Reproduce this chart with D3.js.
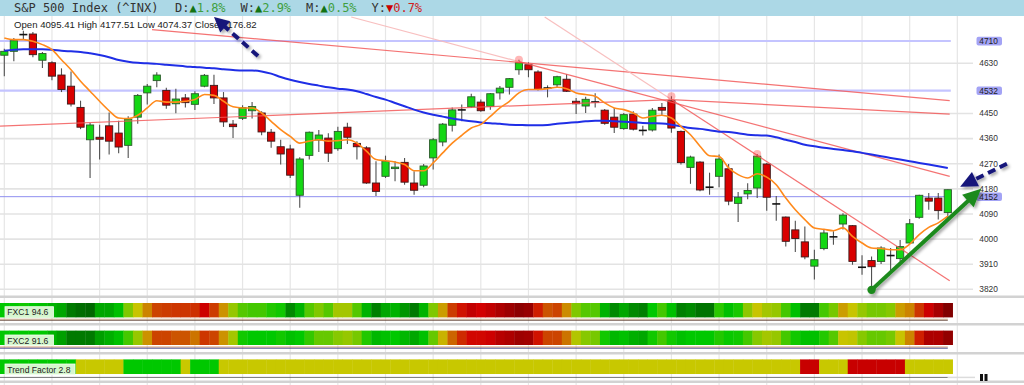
<!DOCTYPE html>
<html><head><meta charset="utf-8">
<script src="https://cdn.jsdelivr.net/npm/d3@7/dist/d3.min.js"></script>
<style>body{margin:0;background:#fff;}svg{display:block;}</style>
</head><body>
<svg id="c" width="1024" height="385"></svg>
<script>
// ---------------- DATA ----------------
const opens = [4659,4673,4732,4735,4641,4632,4588,4548,4472,4356,
 4365,4406,4380,4336,4437,4524,4568,4533,4485,4506,
 4483,4548,4551,4506,4412,4433,4460,4452,4383,4331,
 4323,4157,4300,4355,4362,4324,4401,4343,4327,4201,
 4225,4254,4275,4201,4193,4291,4348,4408,4462,4474,
 4491,4476,4524,4544,4607,4625,4599,4542,4553,4573,
 4494,4477,4491,4462,4437,4396,4448,4390,4391,4472,
 4496,4386,4257,4276,4185,4225,4252,4128,4162,4183,
 4269,4127,4079,4033,3990,3903,3966,4007,4054,4048,
 3898,3923,3920,3940,3930,3986,4078,4147,4147,4095];
const highs = [4682,4721,4747,4742,4671,4637,4612,4601,4496,4416,
 4410,4454,4424,4440,4520,4556,4598,4542,4539,4520,
 4530,4592,4589,4527,4427,4480,4491,4458,4395,4356,
 4338,4293,4386,4391,4379,4403,4417,4351,4333,4279,
 4299,4279,4291,4243,4269,4362,4416,4472,4482,4521,
 4500,4524,4549,4577,4643,4634,4605,4551,4585,4592,
 4506,4510,4523,4466,4470,4452,4458,4406,4470,4488,
 4512,4389,4299,4279,4238,4303,4269,4169,4200,4305,
 4273,4154,4081,4066,4045,3962,4033,4028,4093,4050,
 3942,3938,3974,3968,3997,4072,4159,4165,4165,4178];
const lows = [4584,4637,4715,4652,4613,4569,4527,4475,4394,4219,
 4285,4303,4308,4291,4413,4482,4544,4467,4451,4472,
 4463,4544,4484,4402,4362,4427,4432,4372,4327,4267,
 4219,4112,4285,4312,4276,4317,4341,4285,4198,4154,
 4219,4207,4195,4159,4186,4249,4333,4386,4422,4470,
 4456,4464,4500,4518,4589,4580,4533,4508,4542,4527,
 4448,4452,4472,4410,4380,4392,4389,4371,4386,4444,
 4381,4267,4198,4171,4159,4186,4121,4061,4143,4147,
 4102,4066,3973,3954,3928,3855,3960,3980,4034,3908,
 3872,3818,3911,3885,3920,3982,4073,4105,4070,4074];
const closes = [4673,4711,4734,4661,4665,4584,4536,4484,4401,4409,
 4358,4351,4330,4430,4515,4548,4588,4480,4502,4489,
 4521,4587,4506,4420,4403,4471,4475,4384,4351,4305,
 4229,4287,4383,4373,4308,4386,4365,4331,4201,4171,
 4279,4258,4204,4175,4262,4356,4412,4463,4464,4510,
 4460,4521,4541,4575,4632,4607,4536,4541,4582,4530,
 4485,4501,4492,4415,4401,4446,4394,4389,4462,4462,
 4398,4274,4294,4176,4187,4287,4136,4150,4174,4297,
 4150,4125,3992,4002,3936,3926,4022,4009,4086,3920,
 3900,3901,3968,3942,3973,4055,4157,4136,4102,4177];
const emaFast = [4721,4715,4715,4709,4697,4679,4643,4607,4566,4530,
 4494,4460,4434,4432,4444,4470,4496,4491,4491,4494,
 4500,4518,4515,4494,4474,4470,4470,4452,4422,4392,
 4368,4344,4351,4356,4351,4353,4356,4344,4315,4285,
 4281,4276,4267,4245,4245,4273,4309,4344,4372,4398,
 4411,4440,4470,4494,4524,4536,4536,4539,4544,4539,
 4524,4518,4512,4488,4470,4464,4452,4434,4440,4444,
 4434,4404,4374,4333,4299,4296,4255,4231,4219,4234,
 4222,4195,4147,4105,4070,4040,4035,4030,4040,4010,
 3986,3968,3966,3962,3962,3982,4016,4042,4058,4082];
const maSlow = [4675,4679,4680,4680,4680,4679,4675,4673,4671,4666,
 4660,4652,4642,4636,4632,4630,4628,4625,4622,4619,
 4617,4614,4612,4609,4606,4604,4604,4601,4593,4581,
 4571,4563,4556,4550,4544,4539,4536,4530,4520,4509,
 4500,4488,4476,4464,4454,4446,4439,4432,4427,4422,
 4418,4415,4413,4410,4409,4408,4408,4409,4413,4416,
 4419,4422,4424,4424,4422,4421,4419,4416,4415,4414,
 4410,4404,4398,4395,4390,4385,4384,4379,4374,4372,
 4371,4365,4356,4348,4338,4333,4327,4323,4319,4315,
 4309,4303,4297,4291,4285,4279,4273,4267,4261,4255];
const fxc1 = [30,30,32,30,28,25,22,10,6,4,
 22,22,28,45,55,66,74,75,76,76,
 77,86,75,64,48,40,38,38,34,32,
 15,25,40,45,40,50,50,40,25,12,
 22,25,18,10,25,45,62,75,82,88,
 85,88,92,95,98,96,80,72,74,65,
 45,40,40,25,15,22,15,12,30,38,
 28,12,15,8,8,35,28,33,47,55,
 50,48,38,28,10,10,38,44,62,55,
 48,44,44,46,62,66,76,86,93,100];
const fxc2 = [30,30,30,30,30,25,20,10,10,10,
 20,24,28,38,48,64,74,74,72,72,
 68,76,74,64,50,32,30,30,30,32,
 28,30,36,42,42,46,48,44,34,26,
 28,30,26,22,28,42,58,70,78,84,
 84,86,90,92,95,94,82,74,74,68,
 52,46,44,32,26,28,24,22,32,38,
 32,28,30,30,30,34,31,32,38,46,
 50,48,38,32,28,28,34,40,55,54,
 46,42,42,44,55,66,80,92,92,97];
const trendFactor = ["G","G","G","G","G","G","G","G","Y","Y",
 "Y","Y","Y","G","G","G","G","G","G","Y",
 "G","G","G","Y","Y","Y","Y","Y","Y","Y",
 "Y","Y","Y","Y","Y","Y","Y","Y","Y","Y",
 "Y","Y","Y","Y","Y","Y","Y","Y","Y","Y",
 "Y","Y","Y","Y","Y","Y","Y","Y","Y","Y",
 "Y","Y","Y","Y","Y","Y","Y","Y","Y","Y",
 "Y","Y","Y","Y","Y","Y","Y","Y","Y","Y",
 "Y","Y","Y","Y","R","R","Y","Y","Y","R",
 "R","R","R","R","R","Y","Y","Y","Y","Y"];
const yTicks = [3820,3910,4000,4090,4180,4270,4360,4450,4630];
const levelValues = [4710,4532,4152];
const levelLabels = ["4710","4532","4152"];
// trend lines: start/end index & value, faint flag
const trendStartIdx = [15.5,-0.45,70,36.4,54,56.7,70];
const trendStartVal = [4751,4405,4500,4796,4636,4796,4500];
const trendEndIdx   = [99.2,70,99.2,54,99.2,70,99.2];
const trendEndVal   = [4496,4500,4448,4636,4225,4500,3851];
const trendFaint    = [false,false,false,true,false,true,false];
const pivotIdx = [54,70,79];
const headerTitle = "S&P 500 Index (^INX)";
const statKeys = ["D","W","M","Y"];
const statUp = [true,true,true,false];
const statVals = ["1.8%","2.9%","0.5%","0.7%"];
const ohlcText = "Open 4095.41 High 4177.51 Low 4074.37 Close 4176.82";
const panelNames = ["FXC1 94.6","FXC2 91.6","Trend Factor 2.8"];

// ---------------- CHART ----------------
const svg = d3.select("#c");
const N = opens.length;
const x = d3.scaleLinear().domain([0, N-1]).range([4.3, 947.8]);
const y = d3.scaleLinear().domain([3820, 4710]).range([289.3, 41]);
const step = x(1) - x(0);
const gridRight = 973;

const defs = svg.append("defs");
defs.append("clipPath").attr("id","pc").append("rect").attr("x",0).attr("y",16).attr("width",975).attr("height",280);
const f = defs.append("filter").attr("id","sh").attr("x","-20%").attr("y","-20%").attr("width","140%").attr("height","140%");
f.append("feDropShadow").attr("dx",2).attr("dy",2).attr("stdDeviation",1.6).attr("flood-color","#000").attr("flood-opacity",0.35);

svg.append("rect").attr("width",1024).attr("height",385).attr("fill","#fff");

// vertical grid
svg.append("g").selectAll("line").data(d3.range(0, N+1, 5)).join("line")
  .attr("x1", d=>x(d)).attr("x2", d=>x(d)).attr("y1",16).attr("y2",385)
  .attr("stroke","#e6e6e6").attr("stroke-width",1.2);

// horizontal grid
svg.append("g").selectAll("line").data(yTicks).join("line")
  .attr("x1",0).attr("x2",gridRight).attr("y1",d=>y(d)).attr("y2",d=>y(d))
  .attr("stroke","#e3e3e3").attr("stroke-width",1.6);

const plot = svg.append("g").attr("clip-path","url(#pc)");

// level lines
plot.selectAll("line.lvl").data(levelValues).join("line").attr("class","lvl")
  .attr("x1",0).attr("x2",x(N-1)+3).attr("y1",d=>y(d)).attr("y2",d=>y(d))
  .attr("stroke",(d,i)=> i<2 ? "#c4c4ff" : "#8f8ff0")
  .attr("stroke-width",(d,i)=> i<2 ? 2.2 : 1);

// candles
const cg = plot.append("g");
const idx = d3.range(N);
cg.selectAll("line.wick").data(idx).join("line").attr("class","wick")
  .attr("x1",i=>x(i)).attr("x2",i=>x(i)).attr("y1",i=>y(highs[i])).attr("y2",i=>y(lows[i]))
  .attr("stroke","#505050").attr("stroke-width",1.1);
const doji = i => Math.abs(opens[i]-closes[i]) <= 2;
cg.selectAll("rect.body").data(idx.filter(i=>!doji(i))).join("rect").attr("class","body")
  .attr("x",i=>x(i)-3.6).attr("width",7.2)
  .attr("y",i=>y(Math.max(opens[i],closes[i])))
  .attr("height",i=>Math.max(1.5, Math.abs(y(opens[i])-y(closes[i]))))
  .attr("fill",i=> closes[i]>=opens[i] ? "#14d714" : "#d90000")
  .attr("stroke",i=> closes[i]>=opens[i] ? "#2a5a2a" : "#3a1a1a").attr("stroke-width",0.9);
cg.selectAll("line.doji").data(idx.filter(doji)).join("line").attr("class","doji")
  .attr("x1",i=>x(i)-4).attr("x2",i=>x(i)+4)
  .attr("y1",i=>y((opens[i]+closes[i])/2)).attr("y2",i=>y((opens[i]+closes[i])/2))
  .attr("stroke","#111").attr("stroke-width",1.6);

// trend lines
const tl = d3.range(trendStartIdx.length);
plot.selectAll("line.tl").data(tl).join("line").attr("class","tl")
  .attr("x1",k=>x(trendStartIdx[k])).attr("y1",k=>y(trendStartVal[k]))
  .attr("x2",k=>x(trendEndIdx[k])).attr("y2",k=>y(trendEndVal[k]))
  .attr("stroke",k=> trendFaint[k] ? "#f7b8b8" : "#f25a5a")
  .attr("stroke-opacity",k=> trendFaint[k] ? 0.9 : 0.85)
  .attr("stroke-width",1.2);

// moving averages
const lineGen = arr => d3.line().x((d,i)=>x(i)).y(d=>y(d)).curve(d3.curveMonotoneX)(arr);
plot.append("path").attr("d",lineGen(maSlow)).attr("fill","none").attr("stroke","#1f2ee6").attr("stroke-width",2);
plot.append("path").attr("d",lineGen(emaFast)).attr("fill","none").attr("stroke","#ff8a1c").attr("stroke-width",1.6);

// pivot dots
plot.selectAll("circle.pv").data(pivotIdx).join("circle").attr("class","pv")
  .attr("cx",i=>x(i)).attr("cy",i=>y(highs[i])).attr("r",4)
  .attr("fill","#ff3030").attr("fill-opacity",0.35);

// y axis labels
const axisG = svg.append("g").attr("font-family","Liberation Sans, Arial, sans-serif").attr("font-size","8.4px");
axisG.selectAll("text.tk").data(yTicks).join("text").attr("class","tk")
  .attr("x",979.3).attr("y",d=>y(d)).attr("dy","0.33em").attr("fill","#333").text(d=>d);
const lv = axisG.selectAll("g.lv").data(levelValues).join("g").attr("class","lv");
lv.append("rect").attr("x",976.5).attr("y",d=>y(d)-4.2).attr("width",25.5).attr("height",8.6).attr("rx",2)
  .attr("fill","#a3a3f5");
lv.append("text").attr("x",979.3).attr("y",d=>y(d)+0.6).attr("dy","0.33em").attr("fill","#222")
  .text((d,i)=>levelLabels[i]);

// header
svg.append("rect").attr("x",0).attr("y",0).attr("width",1024).attr("height",16).attr("fill","#acd8e6");
const hdr = svg.append("g").attr("font-family","DejaVu Sans Mono, monospace").attr("font-size","12px");
hdr.append("text").attr("x",14).attr("y",12).attr("fill","#333").text(headerTitle);
const statX = [175,240.5,306,371.5];
statKeys.forEach((k,i)=>{
  const t = hdr.append("text").attr("x",statX[i]).attr("y",12);
  t.append("tspan").attr("fill","#333").text(k+":");
  t.append("tspan").attr("fill", statUp[i] ? "#137313" : "#cc0000").text(statUp[i] ? "▲" : "▼");
  t.append("tspan").attr("fill", statUp[i] ? "#3f9f3f" : "#d02020").text(statVals[i]);
});
svg.append("text").attr("x",14).attr("y",27.5).attr("font-family","Liberation Sans, Arial, sans-serif")
  .attr("font-size","9.6px").attr("fill","#222").text(ohlcText);

// indicator panels
const seps = [296.7, 324.3, 353.3, 381.7];
svg.selectAll("line.sep").data(seps).join("line").attr("class","sep")
  .attr("x1",0).attr("x2",1024).attr("y1",d=>d).attr("y2",d=>d)
  .attr("stroke","#d2d2d2").attr("stroke-width",2.4);

const heat = d3.scaleLinear().domain([0,15,30,45,55,65,75,85,100])
  .range(["#005a00","#008a00","#00c800","#80c800","#c8c400","#cc8c00","#cc3c00","#d20000","#820000"]);
const tfColor = {G:"#00c800", Y:"#c8c800", R:"#c80000"};
const rows = [
  {vals: fxc1, y0: 303, h: 14.4, col: v=>heat(v)},
  {vals: fxc2, y0: 330.6, h: 14.4, col: v=>heat(v)},
  {vals: trendFactor, y0: 359.4, h: 14.6, col: v=>tfColor[v]}
];
rows.forEach(r=>{
  svg.append("g").selectAll("rect").data(r.vals).join("rect")
    .attr("x",(d,i)=>x(i)-step/2).attr("width",step+0.4)
    .attr("y",r.y0).attr("height",r.h).attr("fill",d=>r.col(d));
});
// thin indicator traces under rows
const traces = [
  {y:319.2, c:"#c9a27a", w:1}, {y:320.3, c:"#5a3a2a", w:1},
  {y:347.0, c:"#d08a50", w:1}, {y:348.2, c:"#2a2a7a", w:1},
  {y:377.4, c:"#505050", w:1}
];
svg.selectAll("line.tr").data(traces).join("line").attr("class","tr")
  .attr("x1",0).attr("x2",x(N-1)).attr("y1",d=>d.y).attr("y2",d=>d.y)
  .attr("stroke",d=>d.c).attr("stroke-width",d=>d.w).attr("stroke-opacity",0.8);
svg.append("line").attr("x1",x(N-1)).attr("x2",975).attr("y1",377.4).attr("y2",377.4).attr("stroke","#dcdcdc").attr("stroke-width",1.5);
svg.append("rect").attr("x",980).attr("y",374).attr("width",3).attr("height",7).attr("fill","#111");
svg.append("rect").attr("x",984.5).attr("y",374).attr("width",3).attr("height",7).attr("fill","#111");

// panel labels
const labW = [48.5, 48.5, 70];
const labY = [306.7, 335, 364];
panelNames.forEach((n,i)=>{
  svg.append("rect").attr("x",5).attr("y",labY[i]).attr("width",labW[i]).attr("height",10.6)
    .attr("fill","#d6f6ce").attr("stroke","#f4fff0").attr("stroke-width",0.8);
  svg.append("text").attr("x",7.3).attr("y",labY[i]+8.6).attr("font-family","Liberation Sans, Arial, sans-serif")
    .attr("font-size","8.6px").attr("fill","#222").text(n);
});

// annotation arrows
function arrow(g, x1, y1, x2, y2, color, width, dashed, headLen, headHalf){
  const dx = x2-x1, dy = y2-y1, L = Math.hypot(dx,dy), ux = dx/L, uy = dy/L;
  const bx = x2-ux*headLen, by = y2-uy*headLen, px = -uy, py = ux;
  g.append("line").attr("x1",x1).attr("y1",y1).attr("x2",bx+ux*2).attr("y2",by+uy*2)
    .attr("stroke",color).attr("stroke-width",width).attr("stroke-dasharray",dashed?"8,5":null);
  g.append("polygon").attr("points",[[x2,y2],[bx+px*headHalf,by+py*headHalf],[bx-px*headHalf,by-py*headHalf]].map(p=>p.join(",")).join(" "))
    .attr("fill",color);
}
const ag = svg.append("g").attr("filter","url(#sh)");
arrow(ag, 258, 56, 214, 17, "#15157a", 4, true, 15, 7.5);
const greenFrom = [91, 3818], greenTo = [102.5, 4180];
const navyFrom = [105.2, 4270], navyTo = [100.3, 4188];
arrow(ag, x(navyFrom[0]), y(navyFrom[1]), x(navyTo[0]), y(navyTo[1]), "#15157a", 4, true, 17, 8);
arrow(ag, x(greenFrom[0]), y(greenFrom[1]), x(greenTo[0]), y(greenTo[1]), "#1c8a1c", 4, false, 18, 8.5);
ag.append("circle").attr("cx",x(greenFrom[0])).attr("cy",y(greenFrom[1])).attr("r",4.2).attr("fill","#1c8a1c");
</script>
</body></html>
